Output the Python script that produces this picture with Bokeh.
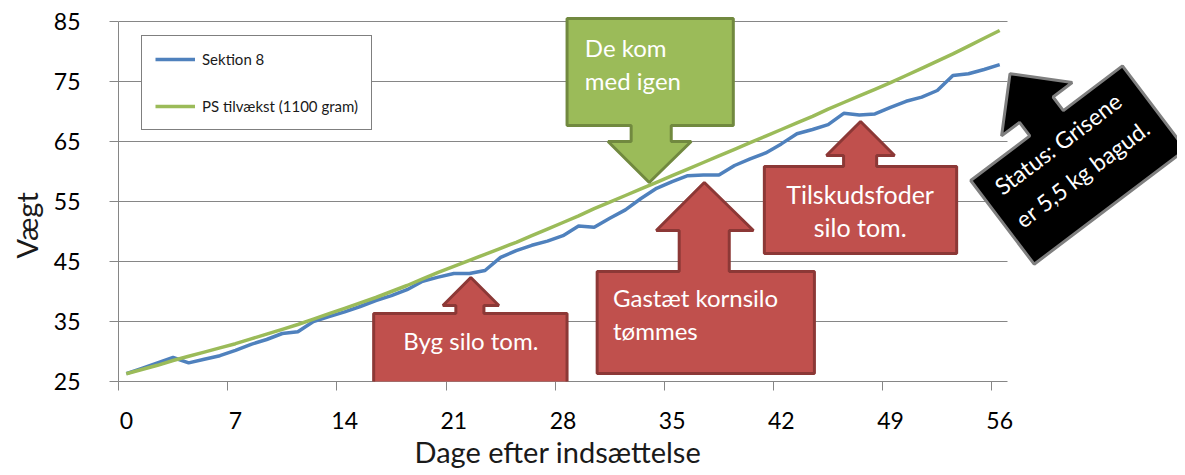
from bokeh.plotting import figure
from bokeh.models import FixedTicker, Legend, LegendItem, PolyAnnotation, Label, Range1d, Title
from bokeh.embed import file_html
from bokeh.resources import INLINE
import math

# ---------------- data ----------------
days = list(range(57))
sektion8 = [26.3, 27.2, 28.1, 29.0, 28.1, 28.7, 29.3, 30.2, 31.2, 32.0,
            33.0, 33.3, 35.0, 35.8, 36.6, 37.5, 38.5, 39.3, 40.3, 41.7,
            42.4, 43.0, 43.0, 43.5, 45.7, 46.8, 47.7, 48.4, 49.3, 50.9,
            50.7, 52.2, 53.6, 55.5, 57.2, 58.3, 59.3, 59.4, 59.4, 61.0,
            62.1, 63.1, 64.6, 66.3, 67.0, 67.8, 69.7, 69.4, 69.6, 70.7,
            71.7, 72.4, 73.5, 76.0, 76.3, 77.0, 77.8]
ps_tilvaekst = [26.3, 27.0, 27.7, 28.5, 29.2, 29.9, 30.6, 31.3, 32.1, 32.9,
                33.7, 34.5, 35.4, 36.3, 37.2, 38.1, 39.0, 40.0, 41.0, 42.1,
                43.2, 44.2, 45.2, 46.2, 47.2, 48.2, 49.3, 50.4, 51.5, 52.6,
                53.8, 54.9, 56.0, 57.1, 58.2, 59.3, 60.4, 61.5, 62.6, 63.7,
                64.8, 65.9, 67.0, 68.1, 69.2, 70.4, 71.5, 72.6, 73.7, 74.8,
                76.0, 77.2, 78.4, 79.6, 80.9, 82.2, 83.5]
x_ticks = [0, 7, 14, 21, 28, 35, 42, 49, 56]
y_ticks = [25, 35, 45, 55, 65, 75, 85]
series_names = ["Sektion 8", "PS tilvækst (1100 gram)"]
x_title = "Dage efter indsættelse"
y_title = "Vægt"

BLUE = "#4F81BD"
GREEN = "#9BBB59"
GRID = "#868686"
FONT = "Lato"

# the frame reaches to the right/top canvas edge so that the callouts are not clipped;
# axis and grid are bounded to the data extent (days -0.5..56.5, 25..85 kg)
p = figure(width=1177, height=475,
           x_range=Range1d(-0.5, 67.4), y_range=Range1d(25, 88.5),
           output_backend="svg", toolbar_location=None,
           min_border_left=118, min_border_right=0,
           min_border_top=0, min_border_bottom=94)
p.outline_line_color = None
p.background_fill_color = "white"
p.border_fill_color = "white"

# grid
p.xgrid.visible = False
p.ygrid.ticker = FixedTicker(ticks=y_ticks)
p.ygrid.grid_line_color = GRID
p.ygrid.grid_line_width = 1
p.ygrid.cross_bounds = (-0.5, 56.5)

# y axis
p.yaxis.bounds = (25, 85)
p.yaxis.ticker = FixedTicker(ticks=y_ticks)
p.yaxis.axis_line_color = GRID
p.yaxis.major_tick_line_color = GRID
p.yaxis.major_tick_out = 9
p.yaxis.major_tick_in = 0
p.yaxis.minor_tick_line_color = None
p.yaxis.major_label_standoff = 29
p.yaxis.major_label_text_font = FONT
p.yaxis.major_label_text_font_size = "23px"
p.yaxis.major_label_text_color = "black"

# x axis (labels centred on days, tick marks between day groups)
p.xaxis.bounds = (-0.5, 56.5)
p.xaxis.ticker = FixedTicker(ticks=x_ticks, minor_ticks=[t - 0.5 for t in x_ticks])
p.xaxis.axis_line_color = GRID
p.xaxis.major_tick_line_color = None
p.xaxis.major_tick_out = 9
p.xaxis.major_tick_in = 0
p.xaxis.minor_tick_line_color = GRID
p.xaxis.minor_tick_out = 9
p.xaxis.minor_tick_in = 0
p.xaxis.major_label_standoff = 21
p.xaxis.major_label_text_font = FONT
p.xaxis.major_label_text_font_size = "23px"
p.xaxis.major_label_text_color = "black"

# axis titles as side titles, positioned along the day / weight axes
p.add_layout(Title(text=x_title, align="left", offset=296, standoff=0,
                   text_font=FONT, text_font_size="29px", text_font_style="normal",
                   text_color="#1a1a1a"), "below")
p.add_layout(Title(text=y_title, align="left", offset=123, standoff=13,
                   text_font=FONT, text_font_size="29px", text_font_style="normal",
                   text_color="#1a1a1a"), "left")

# lines
r_blue = p.line(days, sektion8, line_color=BLUE, line_width=3.5)
r_green = p.line(days, ps_tilvaekst, line_color=GREEN, line_width=3.5)

legend = Legend(items=[LegendItem(label=series_names[0], renderers=[r_blue]),
                       LegendItem(label=series_names[1], renderers=[r_green])],
                location=(23, 251), orientation="vertical",
                border_line_color="black", border_line_width=1,
                background_fill_color="white", background_fill_alpha=1,
                padding=13, spacing=27, margin=0,
                label_height=20, glyph_height=20, glyph_width=40, label_standoff=7,
                label_text_font=FONT, label_text_font_size="15px",
                label_text_color="#1a1a1a")
p.add_layout(legend, "center")

# ---------------- callouts ----------------
RED = "#C0504D"
RED_DARK = "#8C3836"
GREEN_DARK = "#71893F"


def callout(xs, ys, fill, line, lw=3):
    p.add_layout(PolyAnnotation(xs=xs, ys=ys, xs_units="data", ys_units="data",
                                fill_color=fill, fill_alpha=1.0,
                                line_color=line, line_width=lw, line_alpha=1.0,
                                level="overlay"))


def label(x, y, text, align="left", size="24px", angle=0.0):
    p.add_layout(Label(x=x, y=y, text=text, text_color="white", text_font=FONT,
                       text_font_size=size, text_align=align, text_baseline="middle",
                       angle=angle, level="overlay"))


# "De kom med igen" (green, pointing down)
callout([28.26, 38.92, 38.92, 34.94, 34.94, 36.22, 33.53, 30.89, 32.37, 32.37, 28.26],
        [85.5, 85.5, 67.67, 67.67, 65.0, 65.0, 58.17, 65.0, 65.0, 67.67, 67.67],
        GREEN, GREEN_DARK)
label(29.4, 80.67, "De kom")
label(29.4, 75.17, "med igen")

# "Byg silo tom." (red, pointing up)
callout([15.86, 21.13, 21.13, 20.30, 22.09, 23.89, 22.93, 22.93, 28.26, 28.26, 15.86],
        [36.33, 36.33, 37.67, 37.67, 42.33, 37.67, 37.67, 36.33, 36.33, 24.33, 24.33],
        RED, RED_DARK)
label(22.09, 31.83, "Byg silo tom.", align="center")

# "Gastæt kornsilo tømmes"
callout([30.19, 35.45, 35.45, 33.98, 37.06, 40.21, 38.66, 38.66, 44.12, 44.12, 30.19],
        [43.33, 43.33, 50.17, 50.17, 58.17, 50.17, 50.17, 43.33, 43.33, 26.33, 26.33],
        RED, RED_DARK)
label(31.21, 39.0, "Gastæt kornsilo")
label(31.21, 33.5, "tømmes")

# "Tilskudsfoder silo tom."
callout([40.91, 45.99, 45.99, 44.89, 47.08, 49.26, 48.11, 48.11, 53.24, 53.24, 40.91],
        [60.83, 60.83, 62.67, 62.67, 68.33, 62.67, 62.67, 60.83, 60.83, 46.33, 46.33],
        RED, RED_DARK)
label(47.05, 56.33, "Tilskudsfoder", align="center", size="25px")
label(47.05, 50.67, "silo tom.", align="center", size="25px")

# Status (black, rotated)
callout([54.14, 57.93, 57.27, 56.12, 56.66, 60.65, 59.42, 60.08, 63.87, 67.93, 58.21],
        [58.5, 65.93, 68.18, 65.93, 76.3, 74.83, 72.42, 70.15, 77.6, 63.65, 44.55],
        "black", "#7F7F7F", lw=3)
ang = math.radians(37)
label(59.73, 64.67, "Status: Grisene", align="center", size="23px", angle=ang)
label(61.3, 59.67, "er 5,5 kg bagud.", align="center", size="23px", angle=ang)

open("out.html", "w").write(file_html(p, INLINE))
